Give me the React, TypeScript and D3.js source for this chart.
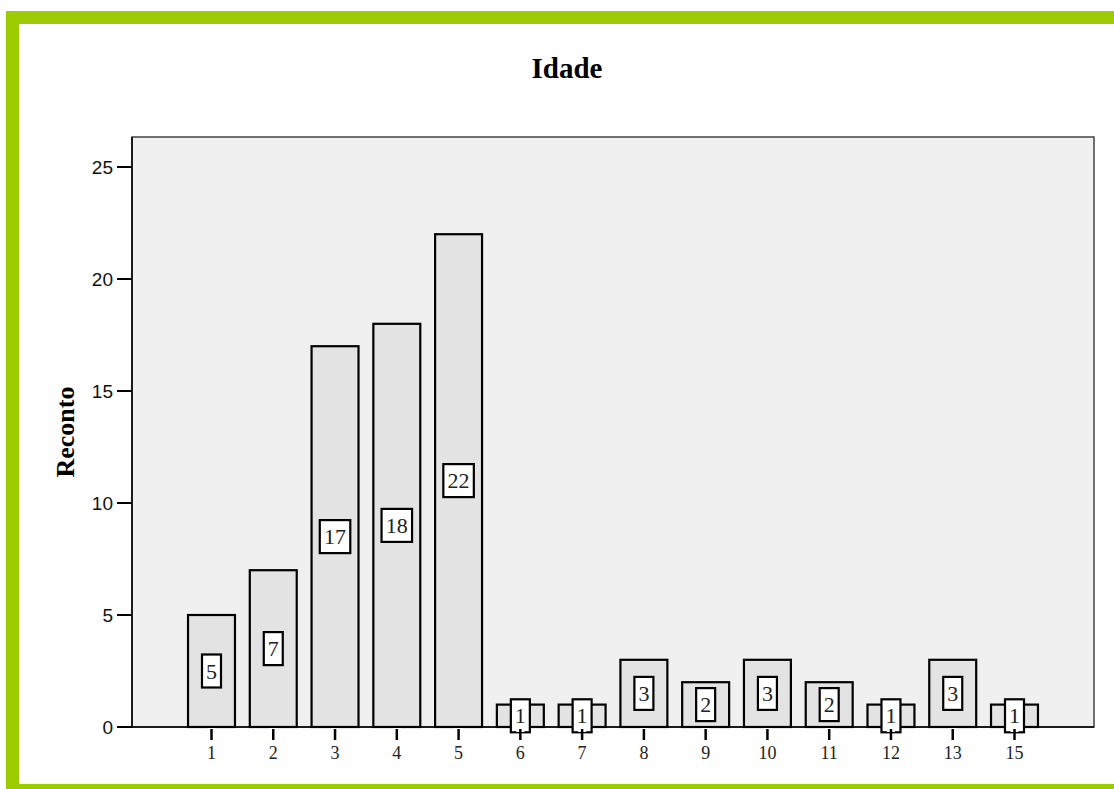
import * as d3 from 'd3';

// Idade (age group) categories and counts (Reconto)
const categories = ['1', '2', '3', '4', '5', '6', '7', '8', '9', '10', '11', '12', '13', '15'];
const counts = [5, 7, 17, 18, 22, 1, 1, 3, 2, 3, 2, 1, 3, 1];
const yTicks = [0, 5, 10, 15, 20, 25];

const W = 1114;
const H = 789;
const margin = { top: 137, right: 20, bottom: 62, left: 132 };
const plotRight = 1094;
const plotBottom = H - margin.bottom; // 727

const serif = '"Liberation Serif", "DejaVu Serif", serif';
const sans = '"Liberation Sans", Arial, sans-serif';

const App = () => {
  const x = d3.scaleBand<string>()
    .domain(categories)
    .range([margin.left, plotRight])
    .paddingInner(0.24)
    .paddingOuter(0.907);

  const y = d3.scaleLinear()
    .domain([0, 26.34])
    .range([plotBottom, margin.top]);

  const data = categories.map((c, i) => ({ cat: c, value: counts[i] }));

  return (
    <svg width={W} height={H} style={{ position: 'absolute', left: 0, top: 0, background: '#fff' }}>
      {/* green frame */}
      <rect x={12.5} y={17.5} width={1200} height={773} fill="none" stroke="#9ccc00" strokeWidth={13} />

      {/* title */}
      <text x={567} y={78} textAnchor="middle" fontFamily={serif} fontWeight="bold" fontSize={29}>
        Idade
      </text>

      {/* y label */}
      <text
        transform={`translate(74,${(margin.top + plotBottom) / 2}) rotate(-90)`}
        textAnchor="middle"
        fontFamily={serif}
        fontWeight="bold"
        fontSize={26}
      >
        Reconto
      </text>

      {/* plot background */}
      <rect
        x={margin.left}
        y={margin.top}
        width={plotRight - margin.left}
        height={plotBottom - margin.top}
        fill="#f0f0f0"
        stroke="#444"
        strokeWidth={1.5}
      />
      <line x1={margin.left} x2={margin.left} y1={margin.top} y2={plotBottom} stroke="#000" strokeWidth={1.5} />

      {/* bars */}
      {data.map(d => (
        <rect
          key={d.cat}
          x={x(d.cat)}
          y={y(d.value)}
          width={x.bandwidth()}
          height={y(0) - y(d.value)}
          fill="#e3e3e3"
          stroke="#000"
          strokeWidth={2.2}
        />
      ))}

      {/* x baseline */}
      <line x1={margin.left} x2={plotRight} y1={plotBottom} y2={plotBottom} stroke="#000" strokeWidth={1.5} />

      {/* value label boxes */}
      {data.map(d => {
        const cx = (x(d.cat) || 0) + x.bandwidth() / 2;
        const cy = y(d.value / 2);
        const label = String(d.value);
        const bw = label.length === 1 ? 19 : 30.5;
        const bh = 33;
        return (
          <g key={'v' + d.cat}>
            <rect x={cx - bw / 2} y={cy - bh / 2} width={bw} height={bh} fill="#fff" stroke="#000" strokeWidth={2.2} />
            <text x={cx} y={cy + 7.5} textAnchor="middle" fontFamily={serif} fontSize={22} fill="#222">
              {label}
            </text>
          </g>
        );
      })}

      {/* x ticks and labels */}
      {data.map(d => {
        const cx = (x(d.cat) || 0) + x.bandwidth() / 2;
        return (
          <g key={'t' + d.cat}>
            <rect x={cx - 4} y={plotBottom + 1} width={8} height={4} fill="#fff" />
            <line x1={cx} x2={cx} y1={729} y2={740} stroke="#000" strokeWidth={2.5} />
            <text x={cx} y={759} textAnchor="middle" fontFamily={serif} fontSize={18} fill="#222">
              {d.cat}
            </text>
          </g>
        );
      })}

      {/* y axis */}
      {yTicks.map(t => (
        <g key={'y' + t}>
          <line x1={117} x2={margin.left} y1={y(t)} y2={y(t)} stroke="#000" strokeWidth={2} />
          <text x={113} y={y(t) + 7} textAnchor="end" fontFamily={sans} fontSize={19} fill="#111">
            {t}
          </text>
        </g>
      ))}
    </svg>
  );
};

export default App;
